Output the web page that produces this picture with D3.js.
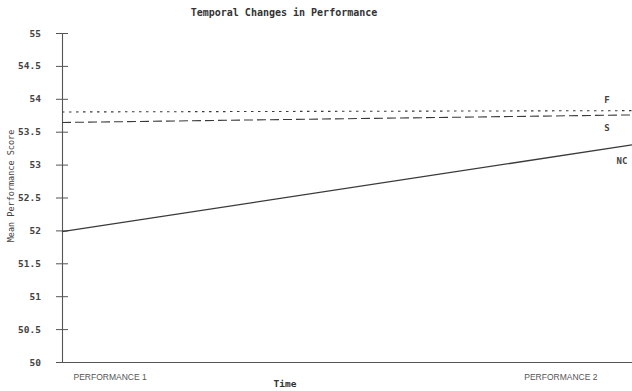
<!DOCTYPE html>
<html><head><meta charset="utf-8">
<script src="https://cdn.jsdelivr.net/npm/d3@7"></script>
<style>
body{margin:0;background:#fff;}
svg{display:block;}
</style></head>
<body>
<svg id="c" width="632" height="391"></svg>
<script>
const categories = ["PERFORMANCE 1", "PERFORMANCE 2"];
const seriesNames = ["F", "S", "NC"];
const valuesF = [53.80, 53.82];
const valuesS = [53.64, 53.755];
const valuesNC = [51.98, 53.30];
const yTicks = [50, 50.5, 51, 51.5, 52, 52.5, 53, 53.5, 54, 54.5, 55];
const yTickLabels = ["50", "50.5", "51", "51.5", "52", "52.5", "53", "53.5", "54", "54.5", "55"];

const series = [
  {name: seriesNames[0], values: valuesF, dash: "2.5,4.5", lx: 607, dy: -11},
  {name: seriesNames[1], values: valuesS, dash: "9,4", lx: 607, dy: 13},
  {name: seriesNames[2], values: valuesNC, dash: null, lx: 622, dy: 16}
];

const svg = d3.select("#c");
const x = d3.scalePoint().domain(categories).range([62, 632]);
const y = d3.scaleLinear().domain([50, 55]).range([362, 33]);
const ink = "#3a3a3a";
const mono = "'DejaVu Sans Mono', 'Liberation Mono', monospace";

// title
svg.append("text").attr("x", 284).attr("y", 16).attr("text-anchor", "middle")
  .attr("font-family", mono).attr("font-size", 10).attr("font-weight", "bold")
  .attr("fill", "#333").text("Temporal Changes in Performance");

// y axis
const yAxis = d3.axisLeft(y).tickValues(yTicks)
  .tickFormat((d, i) => yTickLabels[i]).tickSize(6).tickPadding(8);
const gy = svg.append("g").attr("transform", "translate(62,0)").call(yAxis);
gy.select(".domain").attr("stroke", "#555").attr("stroke-width", 1.1);
gy.selectAll(".tick line").attr("stroke", "#555").attr("x2", 6).attr("x1", -6);
gy.selectAll(".tick text").attr("font-family", mono).attr("font-size", 9.5)
  .attr("font-weight", "bold").attr("fill", "#444").attr("x", -21);

// x axis
const xAxis = d3.axisBottom(x).tickSize(0).tickPadding(12);
const gx = svg.append("g").attr("transform", "translate(0,362)").call(xAxis);
gx.select(".domain").attr("stroke", "#555").attr("stroke-width", 1.1);
gx.selectAll(".tick text").attr("font-family", "'Liberation Sans Narrow','Liberation Sans', sans-serif")
  .attr("font-size", 8.5).attr("fill", "#555")
  .attr("text-anchor", (d, i) => i === 0 ? "start" : "end")
  .attr("dx", (d, i) => i === 0 ? 11 : -35);

// axis titles
svg.append("text").attr("x", 285).attr("y", 387).attr("text-anchor", "middle")
  .attr("font-family", mono).attr("font-size", 9.5).attr("font-weight", "bold")
  .attr("fill", "#333").text("Time");
svg.append("text").attr("transform", "translate(11,186) rotate(-90)")
  .attr("text-anchor", "middle").attr("dy", "0.35em")
  .attr("font-family", mono).attr("font-size", 8.5).attr("fill", "#444")
  .text("Mean Performance Score");

// lines
const line = d3.line().x((d, i) => x(categories[i])).y(d => y(d));
series.forEach(s => {
  const p = svg.append("path").datum(s.values).attr("d", line)
    .attr("fill", "none").attr("stroke", ink).attr("stroke-width", s.dash ? 1.1 : 1.3);
  if (s.dash) p.attr("stroke-dasharray", s.dash);
  svg.append("text").attr("x", s.lx).attr("y", y(s.values[1]) + s.dy)
    .attr("text-anchor", "middle").attr("dy", "0.35em")
    .attr("font-family", mono).attr("font-size", 9).attr("font-weight", "bold")
    .attr("fill", "#444").text(s.name);
});
</script>
</body></html>
